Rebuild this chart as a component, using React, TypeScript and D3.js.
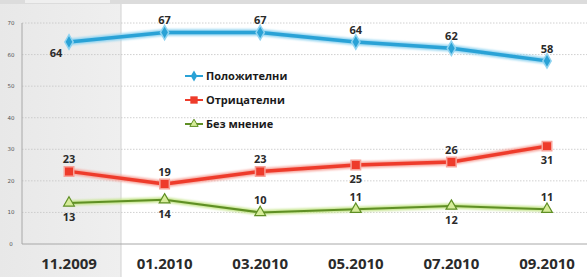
import * as React from 'react';
import * as d3 from 'd3';

const categories = ['11.2009', '01.2010', '03.2010', '05.2010', '07.2010', '09.2010'];
const positive = [64, 67, 67, 64, 62, 58];
const negative = [23, 19, 23, 25, 26, 31];
const noOpinion = [13, 14, 10, 11, 12, 11];
const yTicks = [0, 10, 20, 30, 40, 50, 60, 70];
const legendNames = ['Положителни', 'Отрицателни', 'Без мнение'];

// label placement per point: -1 above, +1 below
const positivePos = [1, -1, -1, -1, -1, -1];
const negativePos = [-1, -1, -1, 1, -1, 1];
const noOpinionPos = [1, 1, -1, -1, 1, -1];

const W = 587;
const H = 277;

export default function App() {
  const ref = React.useRef<SVGSVGElement>(null);

  React.useEffect(() => {
    const svg = d3.select(ref.current);
    svg.selectAll('*').remove();

    const x = d3.scalePoint<string>().domain(categories).range([69, 547]);
    const y = d3.scaleLinear().domain([0, 70]).range([244, 23]);

    const defs = svg.append('defs');
    const grad = defs.append('linearGradient').attr('id', 'shade').attr('x1', 0).attr('x2', 1);
    grad.append('stop').attr('offset', '0%').attr('stop-color', '#e8e8e8');
    grad.append('stop').attr('offset', '100%').attr('stop-color', '#efefef');
    const glow = defs.append('filter').attr('id', 'glow').attr('x', '-10%').attr('y', '-50%').attr('width', '120%').attr('height', '200%');
    glow.append('feGaussianBlur').attr('stdDeviation', 1.2);

    svg.append('rect').attr('width', W).attr('height', H).attr('fill', '#fff');
    svg.append('rect').attr('x', 0).attr('y', 0).attr('width', 121).attr('height', H).attr('fill', 'url(#shade)');
    svg.append('line').attr('x1', 121).attr('x2', 121).attr('y1', 4).attr('y2', H).attr('stroke', '#d2d2d2');
    svg.append('rect').attr('x', 0).attr('y', 0).attr('width', W).attr('height', 4).attr('fill', '#dcdcdc');
    svg.append('rect').attr('x', 25).attr('y', 0).attr('width', 85).attr('height', 3).attr('fill', '#efefef');

    // gridlines
    svg.append('g')
      .selectAll('line')
      .data(yTicks.filter(d => d > 0))
      .join('line')
      .attr('x1', 22)
      .attr('x2', W)
      .attr('y1', d => y(d))
      .attr('y2', d => y(d))
      .attr('stroke', '#c4c4c4')
      .attr('stroke-width', 0.8)
      .attr('stroke-dasharray', '1.5,1.5');

    // axes
    svg.append('line').attr('x1', 22).attr('x2', 22).attr('y1', 23).attr('y2', 244).attr('stroke', '#a8a8a8');
    svg.append('line').attr('x1', 22).attr('x2', W).attr('y1', 244).attr('y2', 244).attr('stroke', '#a8a8a8');

    svg.append('g')
      .selectAll('text')
      .data(yTicks)
      .join('text')
      .attr('x', 11)
      .attr('y', d => y(d) + 2)
      .attr('text-anchor', 'middle')
      .attr('font-size', 5.5)
      .attr('fill', '#555')
      .attr('font-family', 'DejaVu Sans, sans-serif')
      .text(d => d);

    svg.append('g')
      .selectAll('text')
      .data(categories)
      .join('text')
      .attr('x', d => x(d)!)
      .attr('y', 269)
      .attr('text-anchor', 'middle')
      .attr('font-size', 15)
      .attr('font-weight', 'bold')
      .attr('fill', '#2a2a2a')
      .attr('font-family', 'Open Sans, DejaVu Sans, sans-serif')
      .text(d => d);

    const series = [
      { values: positive, pos: positivePos, color: '#2aa2d6', halo: '#8fd3f0', width: 3.5, marker: 'diamond' },
      { values: negative, pos: negativePos, color: '#ee3b2b', halo: '#f7a39a', width: 3.5, marker: 'square' },
      { values: noOpinion, pos: noOpinionPos, color: '#5f8f24', halo: '#c4e48a', width: 2, marker: 'triangle' }
    ];

    const line = d3.line<number>()
      .x((_, i) => x(categories[i])!)
      .y(d => y(d));

    const markerPath = (kind: string, scale = 1) => {
      if (kind === 'diamond') return d3.symbol(d3.symbolDiamond, 60 * scale)();
      if (kind === 'square') return d3.symbol(d3.symbolSquare, 90 * scale)();
      return d3.symbol(d3.symbolTriangle, 50 * scale)();
    };

    series.forEach((s, si) => {
      svg.append('path')
        .datum(s.values)
        .attr('fill', 'none')
        .attr('stroke', s.halo)
        .attr('stroke-width', s.width + 3)
        .attr('stroke-linejoin', 'round')
        .attr('filter', 'url(#glow)')
        .attr('d', line);
      svg.append('path')
        .datum(s.values)
        .attr('fill', 'none')
        .attr('stroke', s.color)
        .attr('stroke-width', s.width)
        .attr('stroke-linejoin', 'round')
        .attr('d', line);
      svg.append('g')
        .selectAll('path')
        .data(s.values)
        .join('path')
        .attr('transform', (d, i) => `translate(${x(categories[i])},${y(d)})`)
        .attr('d', markerPath(s.marker))
        .attr('fill', s.marker === 'triangle' ? '#d6ec9a' : s.color)
        .attr('stroke', s.marker === 'triangle' ? s.color : s.halo)
        .attr('stroke-width', s.marker === 'triangle' ? 1.2 : 1.5);
      svg.append('g')
        .selectAll('text')
        .data(s.values)
        .join('text')
        .attr('x', (d, i) => x(categories[i])! - (si === 0 && i === 0 ? 13 : 0))
        .attr('y', (d, i) => y(d) + (s.pos[i] < 0 ? -8 : 18) - (si === 0 && i === 0 ? 3 : 0))
        .attr('text-anchor', 'middle')
        .attr('font-size', 11)
        .attr('font-weight', 'bold')
        .attr('fill', '#2a2a2a')
        .attr('font-family', 'Open Sans, DejaVu Sans, sans-serif')
        .text(d => d);
    });

    // legend
    legendNames.forEach((name, i) => {
      const s = series[i];
      const ly = 76 + i * 24;
      const g = svg.append('g').attr('transform', `translate(185,${ly})`);
      g.append('line').attr('x1', 0).attr('x2', 18).attr('y1', 0).attr('y2', 0).attr('stroke', s.color).attr('stroke-width', 2);
      g.append('path')
        .attr('transform', 'translate(9,0)')
        .attr('d', markerPath(s.marker, 0.6))
        .attr('fill', s.marker === 'triangle' ? '#d6ec9a' : s.color)
        .attr('stroke', s.marker === 'triangle' ? s.color : 'none');
      g.append('text')
        .attr('x', 21)
        .attr('y', 4)
        .attr('font-size', 11)
        .attr('font-weight', 'bold')
        .attr('fill', '#1a1a1a')
        .attr('font-family', 'Open Sans, DejaVu Sans, sans-serif')
        .text(name);
    });
  }, []);

  return (
    <svg ref={ref} width={W} height={H} style={{ position: 'absolute', left: 0, top: 0 }} />
  );
}
